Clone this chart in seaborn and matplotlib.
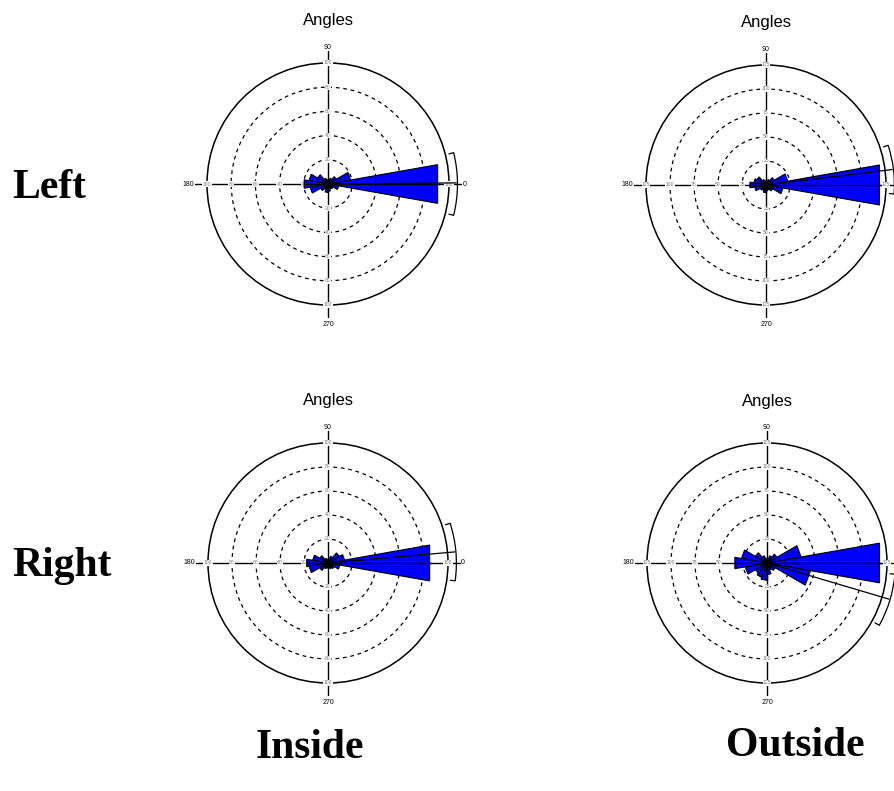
import numpy as np
import seaborn as sns
from matplotlib import pyplot as plt
from matplotlib.patches import Circle, Arc

sns.set_theme(style="white")
plt.rcParams["font.family"] = ["Liberation Sans", "DejaVu Sans"]
plt.rcParams["text.color"] = "black"

W, H = 895, 791

# bin centres (degrees, counter-clockwise from east), 20 degree bins
BIN_CENTERS = list(range(0, 360, 20))
BIN_WIDTH = 20

LEFT_INSIDE = [92, 19, 8, 5, 4, 3, 5, 10, 16, 20, 15, 7, 5, 7, 6, 4, 5, 9]
LEFT_OUTSIDE = [120, 23, 10, 6, 5, 4, 6, 11, 13, 17, 12, 7, 6, 8, 6, 5, 8, 18]
RIGHT_INSIDE = [86, 14, 11, 6, 3, 3, 4, 8, 13, 18, 16, 8, 5, 4, 4, 5, 6, 10]
RIGHT_OUTSIDE = [119, 36, 12, 8, 5, 5, 8, 14, 27, 34, 23, 14, 16, 18, 12, 8, 10, 46]

# mean direction and 95% confidence limits (degrees)
MEANS = {"LI": 0.5, "LO": 7, "RI": 5, "RO": -16.5}
CI_LOW = {"LI": -14, "LO": -4, "RI": -8, "RO": -29}
CI_HIGH = {"LI": 14, "LO": 18, "RI": 18, "RO": -5}

RING_STEP = {"LI": 20, "LO": 25, "RI": 20, "RO": 25}
RMAX = {"LI": 100, "LO": 125, "RI": 100, "RO": 125}

ROW_LABELS = ["Left", "Right"]
COL_LABELS = ["Inside", "Outside"]
ANGLE_LABELS = ["0", "90", "180", "270"]

BLUE = "#0000ff"


def petal_reach(values, angle):
    # length of the petal(s) lying on a given direction
    reach = 0
    for c, v in zip(BIN_CENTERS, values):
        d = (angle - c + 180) % 360 - 180
        if abs(d) <= BIN_WIDTH / 2:
            reach = max(reach, v * np.cos(np.radians(d)))
    return reach


def draw_rose(fig, cx, cy, R, key, values):
    half = 1.6 * R
    ax = fig.add_axes([(cx - half) / W, 1 - (cy + half) / H, 2 * half / W, 2 * half / H])
    rmax = RMAX[key]
    lim = 1.6 * rmax
    ax.set_xlim(-lim, lim)
    ax.set_ylim(-lim, lim)
    ax.set_aspect("equal")
    ax.axis("off")

    step = RING_STEP[key]
    rings = list(range(step, rmax, step))
    for r in rings:
        ax.add_patch(Circle((0, 0), r, fill=False, ec="black", lw=0.9, ls=(0, (3, 3)), zorder=1))
    ax.add_patch(Circle((0, 0), rmax, fill=False, ec="black", lw=1.1, zorder=1))

    # cross hair axes
    ext = 1.1 * rmax
    ax.plot([-ext, ext], [0, 0], color="black", lw=1.0, zorder=1.2)
    ax.plot([0, 0], [-ext, ext], color="black", lw=1.0, zorder=1.2)

    marks = rings + [rmax]
    for r in marks:
        for x, y in [(r, 0), (-r, 0), (0, r), (0, -r)]:
            ax.text(x, y, str(r), fontsize=3.6, color="#777777", ha="center", va="center", zorder=1.5,
                    bbox=dict(fc="white", ec="none", pad=0.2))

    # petals
    for c, v in zip(BIN_CENTERS, values):
        t1 = np.radians(c - BIN_WIDTH / 2)
        t2 = np.radians(c + BIN_WIDTH / 2)
        ax.fill([0, v * np.cos(t1), v * np.cos(t2)], [0, v * np.sin(t1), v * np.sin(t2)],
                fc=BLUE, ec="black", lw=0.8, zorder=2)

    # axes stay visible across the petals
    for ang, (sx, sy) in zip([0, 90, 180, 270], [(1, 0), (0, 1), (-1, 0), (0, -1)]):
        L = petal_reach(values, ang)
        ax.plot([0, sx * L], [0, sy * L], color="black", lw=1.0, zorder=3)
    ax.plot(0, 0, "o", color="black", ms=6, zorder=4)

    ax.text(1.11 * rmax, 0, ANGLE_LABELS[0], fontsize=5, ha="left", va="center")
    ax.text(0, 1.13 * rmax, ANGLE_LABELS[1], fontsize=5, ha="center", va="center")
    ax.text(-1.11 * rmax, 0, ANGLE_LABELS[2], fontsize=5, ha="right", va="center")
    ax.text(0, -1.16 * rmax, ANGLE_LABELS[3], fontsize=5, ha="center", va="center")
    ax.text(0, 1.35 * rmax, "Angles", fontsize=12, ha="center", va="center")

    # mean direction and confidence arc
    m = np.radians(MEANS[key])
    rl = 1.06 * rmax
    ax.plot([0, rl * np.cos(m)], [0, rl * np.sin(m)], color="black", lw=0.9, zorder=3)
    ra = 1.07 * rmax
    ax.add_patch(Arc((0, 0), 2 * ra, 2 * ra, theta1=CI_LOW[key], theta2=CI_HIGH[key],
                     ec="black", lw=0.9, zorder=3))
    for a in [CI_LOW[key], CI_HIGH[key]]:
        t = np.radians(a)
        ax.plot([1.03 * rmax * np.cos(t), ra * np.cos(t)], [1.03 * rmax * np.sin(t), ra * np.sin(t)],
                color="black", lw=0.9, zorder=3)
    return ax


fig = plt.figure(figsize=(W / 100, H / 100), dpi=100)
fig.patch.set_facecolor("white")

draw_rose(fig, 328, 184, 121, "LI", LEFT_INSIDE)
draw_rose(fig, 766, 185, 120, "LO", LEFT_OUTSIDE)
draw_rose(fig, 328, 563, 120, "RI", RIGHT_INSIDE)
draw_rose(fig, 767, 563, 120, "RO", RIGHT_OUTSIDE)

serif = ["Liberation Serif", "DejaVu Serif"]
fig.text(12 / W, 1 - 188 / H, ROW_LABELS[0], family=serif, fontsize=30, fontweight="bold",
         ha="left", va="center")
fig.text(12 / W, 1 - 566 / H, ROW_LABELS[1], family=serif, fontsize=30, fontweight="bold",
         ha="left", va="center")
fig.text(310 / W, 1 - 748 / H, COL_LABELS[0], family=serif, fontsize=30, fontweight="bold",
         ha="center", va="center")
fig.text(795 / W, 1 - 746 / H, COL_LABELS[1], family=serif, fontsize=30, fontweight="bold",
         ha="center", va="center")

fig.savefig("out.png", dpi=100, facecolor="white")
